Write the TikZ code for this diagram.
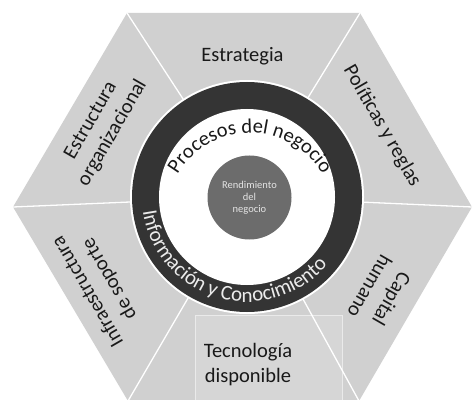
\documentclass[tikz,border=0pt]{standalone}
\usepackage{fontspec}
\setmainfont{Carlito}
\usetikzlibrary{decorations.text}
\definecolor{hexfill}{RGB}{208,208,208}
\definecolor{boxfill}{RGB}{214,214,214}
\definecolor{boxline}{RGB}{234,234,234}
\definecolor{ringdark}{RGB}{52,52,52}
\definecolor{coregray}{RGB}{108,108,108}
\definecolor{coretext}{RGB}{228,228,228}
\definecolor{txt}{RGB}{25,25,25}
\begin{document}
\begin{tikzpicture}[x=1pt,y=1pt,
  seclabel/.style={font=\fontsize{20.5}{25}\selectfont, text=txt, align=center, inner sep=0pt},
  divider/.style={draw=white, line width=1.3pt}]
\useasboundingbox (0,0) rectangle (473,399);
\clip (0,0) rectangle (473,399);
\coordinate (TL) at (127,386);
\coordinate (TR) at (360,386);
\coordinate (R) at (472,192);
\coordinate (BR) at (359,-2);
\coordinate (BL) at (128,-2);
\coordinate (L) at (13,192);
\coordinate (C) at (247,202);
\coordinate (PC) at (250,182);
% hexagon
\fill[hexfill] (TL) -- (TR) -- (R) -- (BR) -- (BL) -- (L) -- cycle;
% technology box
\filldraw[fill=boxfill, draw=boxline, line width=0.8pt] (195,84) rectangle (342,-5);
% dividers
\foreach \v in {TL,TR,R,BR,BL,L} \draw[divider] (C) -- (\v);
% rings
\fill[white] (C) circle[radius=117pt];
\fill[ringdark] (C) circle[radius=115pt];
\fill[white] (C) circle[radius=88pt];
\node[circle, fill=coregray, minimum size=84pt, inner sep=0pt, text=coretext,
  font=\fontsize{10.5}{12}\selectfont, align=center] (core) at (249.5,201.5) {Rendimiento\\del\\negocio};
% curved texts
\path[decorate, decoration={text along path, text align=center, text color=txt,
  text={|\fontsize{20.5}{24}\selectfont|Procesos del negocio}}]
  (PC) ++(170:84pt) arc[start angle=170, end angle=10, radius=84pt];
\path[decorate, decoration={text along path, text align=center, text color=white!92!black,
  text={|\fontsize{21}{24}\selectfont|Información y Conocimiento}}]
  (C) ++(154:105pt) arc[start angle=154, end angle=354, radius=105pt];
% section labels
\node[seclabel, anchor=base] (estrategia) at (242.5,337) {Estrategia};
\node[seclabel, rotate=60] (estructura) at (102,272) {Estructura\\organizacional};
\node[seclabel, rotate=-60] (politicas) at (382,273) {Políticas y reglas};
\node[seclabel, rotate=-120] (capital) at (381,106) {Capital\\humano};
\node[seclabel, rotate=120] (infra) at (99,114) {Infraestructura\\de soporte};
\node[seclabel] (tecno) at (248,34) {Tecnología\\disponible};
\end{tikzpicture}
\end{document}
